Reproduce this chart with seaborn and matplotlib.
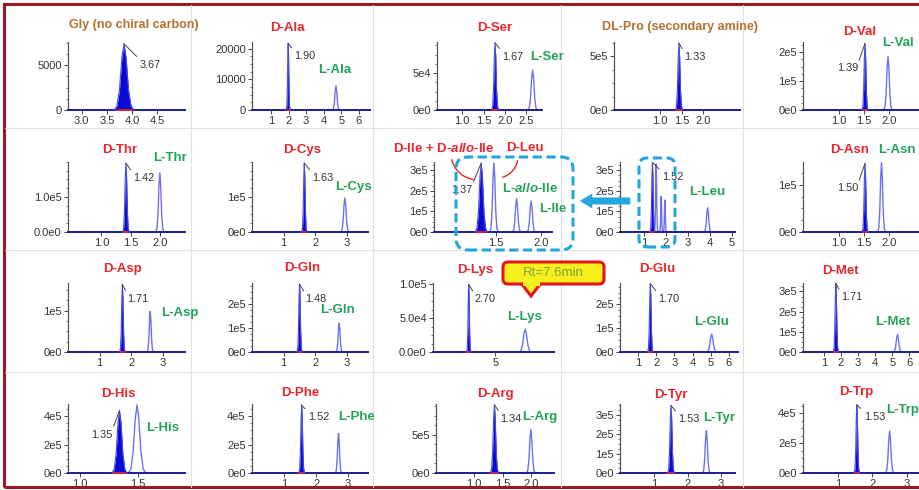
import numpy as np
import matplotlib
matplotlib.use("Agg")
import matplotlib.pyplot as plt
import seaborn as sns
from matplotlib.patches import FancyBboxPatch, FancyArrowPatch, Polygon, Rectangle
from matplotlib.lines import Line2D
from matplotlib.ticker import AutoMinorLocator

# estilo
sns.set_style("ticks")
plt.rcParams['font.family'] = ['Liberation Sans', 'DejaVu Sans']
plt.rcParams['mathtext.fontset'] = 'custom'
plt.rcParams['mathtext.rm'] = 'Liberation Sans:bold'
plt.rcParams['mathtext.it'] = 'Liberation Sans:italic:bold'
plt.rcParams['mathtext.bf'] = 'Liberation Sans:bold'

TITLES = ["Gly (no chiral carbon)", "D-Ala", "D-Ser", "DL-Pro (secondary amine)", "D-Val",
          "D-Thr", "D-Cys", "D-Ile + D-$\\mathit{allo}$-Ile", "", "D-Asn",
          "D-Asp", "D-Gln", "D-Lys", "D-Glu", "D-Met",
          "D-His", "D-Phe", "D-Arg", "D-Tyr", "D-Trp"]
L_LABELS = ["", "L-Ala", "L-Ser", "", "L-Val",
            "L-Thr", "L-Cys", "L-$\\mathit{allo}$-Ile", "L-Leu", "L-Asn",
            "L-Asp", "L-Gln", "L-Lys", "L-Glu", "L-Met",
            "L-His", "L-Phe", "L-Arg", "L-Tyr", "L-Trp"]
RT_TEXT = ["3.67", "1.90", "1.67", "1.33", "1.39", "1.42", "1.63", "1.37", "1.52", "1.50",
           "1.71", "1.48", "2.70", "1.70", "1.71", "1.35", "1.52", "1.34", "1.53", "1.53"]

# pico D (relleno)
D_RT = [3.84, 1.98, 1.77, 1.44, 1.52, 1.42, 1.65, 1.34, 1.38, 1.52,
        1.72, 1.50, 2.70, 1.67, 1.70, 1.34, 1.55, 1.36, 1.50, 1.55]
D_HEIGHT = [7400, 21800, 9.1e4, 6.2e5, 2.3e5, 1.97e5, 1.97e5, 3.35e5, 3.38e5, 1.45e5,
            1.63e5, 2.83e5, 1.0e5, 2.87e5, 3.4e5, 4.4e5, 4.8e5, 8.9e5, 3.5e5, 4.55e5]
D_WIDTH = [0.2, 0.11, 0.08, 0.08, 0.06, 0.055, 0.08, 0.066, 0.11, 0.057,
           0.085, 0.08, 0.18, 0.145, 0.15, 0.065, 0.09, 0.07, 0.1, 0.077]

# picos L / otros (contorno)
L_RT = [[], [4.7], [2.65], [], [1.98], [2.0], [2.93], [1.48, 1.73, 1.89], [1.55, 1.78, 1.95, 3.9], [1.85],
        [2.6], [2.75], [7.6], [5.05], [5.3], [1.49], [2.7], [1.99], [2.56], [2.5]]
L_HEIGHT = [[], [7900], [5.4e4], [], [1.85e5], [1.69e5], [0.97e5], [3.35e5, 1.62e5, 1.5e5],
            [3.3e5, 1.72e5, 1.55e5, 1.18e5], [1.47e5],
            [0.98e5], [1.2e5], [3.4e4], [0.75e5], [0.87e5], [4.8e5], [2.8e5], [5.65e5], [2.2e5], [2.8e5]]
L_WIDTH = [[], [0.2], [0.11], [], [0.085], [0.07], [0.13], [0.046, 0.046, 0.046], [0.08, 0.07, 0.07, 0.16], [0.077],
           [0.1], [0.1], [0.52], [0.27], [0.24], [0.075], [0.1], [0.076], [0.115], [0.12]]

# forma normalizada de un pico
PROFILE_X = [-1.0, -0.7, -0.45, -0.2, 0.0, 0.2, 0.45, 0.7, 1.0]
PROFILE_Y = [0.0, 0.06, 0.3, 0.8, 1.0, 0.8, 0.3, 0.06, 0.0]

# ejes
XLIM = [(2.73, 5.05), (-0.08, 6.64), (0.41, 2.87), (-0.07, 2.86), (0.28, 2.82),
        (0.43, 2.43), (0.0, 3.66), (0.82, 2.12), (-0.1, 5.15), (0.28, 2.82),
        (0.0, 3.7), (0.0, 3.66), (-0.4, 10.1), (0.0, 6.5), (-0.22, 7.2),
        (0.9, 1.9), (0.0, 3.62), (0.35, 2.39), (-0.03, 3.42), (-0.01, 3.67)]
XTICKS = [[3.0, 3.5, 4.0, 4.5], [1, 2, 3, 4, 5, 6], [1.0, 1.5, 2.0, 2.5], [1.0, 1.5, 2.0], [1.0, 1.5, 2.0],
          [1.0, 1.5, 2.0], [1, 2, 3], [1.5, 2.0], [1, 2, 3, 4, 5], [1.0, 1.5, 2.0],
          [1, 2, 3], [1, 2, 3], [5], [1, 2, 3, 4, 5, 6], [1, 2, 3, 4, 5, 6],
          [1.0, 1.5], [1, 2, 3], [1.0, 1.5, 2.0], [1, 2, 3], [1, 2, 3]]
XTICK_LABELS = [["3.0", "3.5", "4.0", "4.5"], ["1", "2", "3", "4", "5", "6"], ["1.0", "1.5", "2.0", "2.5"],
                ["1.0", "1.5", "2.0"], ["1.0", "1.5", "2.0"],
                ["1.0", "1.5", "2.0"], ["1", "2", "3"], ["1.5", "2.0"], ["1", "2", "3", "4", "5"], ["1.0", "1.5", "2.0"],
                ["1", "2", "3"], ["1", "2", "3"], ["5"], ["1", "2", "3", "4", "5", "6"], ["1", "2", "3", "4", "5", "6"],
                ["1.0", "1.5"], ["1", "2", "3"], ["1.0", "1.5", "2.0"], ["1", "2", "3"], ["1", "2", "3"]]
YLIM_TOP = [7600, 22200, 9.2e4, 6.3e5, 2.35e5, 2.0e5, 2.0e5, 3.4e5, 3.4e5, 1.48e5,
            1.67e5, 2.88e5, 1.02e5, 2.9e5, 3.42e5, 4.87e5, 4.87e5, 9.0e5, 3.57e5, 4.6e5]
YTICKS = [[0, 5000], [0, 10000, 20000], [0, 5e4], [0, 5e5], [0, 1e5, 2e5],
          [0, 1e5], [0, 1e5], [0, 1e5, 2e5, 3e5], [0, 1e5, 2e5, 3e5], [0, 1e5],
          [0, 1e5], [0, 1e5, 2e5], [0, 5e4, 1e5], [0, 1e5, 2e5], [0, 1e5, 2e5, 3e5],
          [0, 2e5, 4e5], [0, 2e5, 4e5], [0, 5e5], [0, 1e5, 2e5, 3e5], [0, 2e5, 4e5]]
YTICK_LABELS = [["0", "5000"], ["0", "10000", "20000"], ["0e0", "5e4"], ["0e0", "5e5"], ["0e0", "1e5", "2e5"],
                ["0.0e0", "1.0e5"], ["0e0", "1e5"], ["0e0", "1e5", "2e5", "3e5"], ["0e0", "1e5", "2e5", "3e5"], ["0e0", "1e5"],
                ["0e0", "1e5"], ["0e0", "1e5", "2e5"], ["0.0e0", "5.0e4", "1.0e5"], ["0e0", "1e5", "2e5"],
                ["0e0", "1e5", "2e5", "3e5"],
                ["0e0", "2e5", "4e5"], ["0e0", "2e5", "4e5"], ["0e0", "5e5"], ["0e0", "1e5", "2e5", "3e5"],
                ["0e0", "2e5", "4e5"]]

# ---- layout (pixeles) ----
W, H = 920, 490
AX_LEFT = [68, 252, 437, 614, 803, 68, 252, 434, 620, 803, 68, 252, 433, 620, 803, 68, 252, 436, 620, 803]
AX_RIGHT = [185, 370, 542, 740, 930, 185, 368, 552, 735, 930, 185, 368, 554, 738, 930, 185, 368, 554, 735, 930]
ROW_TOP = [42, 162, 283, 404]
ROW_BASE = [110, 232, 352, 473]
TITLE_POS = [(134, 25), (287, 28), (495, 28), (680, 27), (860, 32),
             (120, 150), (302, 150), (444, 148), None, (850, 150),
             (123, 269), (302, 268), (475, 270), (657, 269), (840, 271),
             (118, 394), (300, 393), (495, 394), (671, 395), (856, 392)]
L_POS = [None, (335, 70), (547, 57), None, (898, 43),
         (170, 158), (353, 187), (530, 189), (707, 192), (897, 150),
         (180, 313), (338, 310), (525, 317), (712, 322), (893, 322),
         (163, 428), (357, 417), (540, 417), (719, 418), (903, 410)]
RT_OFFSET = [(16, 21, 'left'), (6, 13, 'left'), (7, 14, 'left'), (5, 14, 'left'), (-7, 25, 'right'),
             (7, 15, 'left'), (8, 15, 'left'), (-9, 27, 'right'), (10, 15, 'left'), (-7, 25, 'right'),
             (5, 14, 'left'), (6, 15, 'left'), (6, 15, 'left'), (8, 15, 'left'), (5, 14, 'left'),
             (-7, 24, 'right'), (6, 12, 'left'), (6, 14, 'left'), (7, 14, 'left'), (7, 12, 'left')]

RED = '#e8262d'
GREEN = '#23a35a'
BROWN = '#b5702e'
DARK = '#0a0ad8'
LIGHT = '#7070ee'
NAVY = '#1c1c96'
TEXT = '#333333'
CYAN = '#22a6de'

fig = plt.figure(figsize=(W / 100, H / 100), dpi=100)
fig.patch.set_facecolor('white')
inch = fig.dpi_scale_trans


def at(x, y):
    return (x / 100, (H - y) / 100)


def peak(rt, h, w):
    return rt + w * np.array(PROFILE_X), h * np.array(PROFILE_Y)


# lineas de la cuadricula y marco
for gx in [191, 373, 561, 743]:
    fig.add_artist(Line2D([gx / 100] * 2, [at(0, 5)[1], at(0, 487)[1]], transform=inch, color='#e2e2e2', lw=0.8))
for gy in [128, 250, 372]:
    fig.add_artist(Line2D([0.05, 9.2], [at(0, gy)[1]] * 2, transform=inch, color='#e2e2e2', lw=0.8))
fig.add_artist(Rectangle(at(4, 487), 10, 4.83, transform=inch, fill=False, ec='#9e1a1e', lw=2.2))

for i in range(20):
    r, c = divmod(i, 5)
    l, rr = AX_LEFT[i], AX_RIGHT[i]
    top, base = ROW_TOP[r], ROW_BASE[r]
    ax = fig.add_axes([l / W, 1 - base / H, (rr - l) / W, (base - top) / H])
    ax.patch.set_alpha(0)

    for rt, h, w in zip(L_RT[i], L_HEIGHT[i], L_WIDTH[i]):
        px, py = peak(rt, h, w)
        sns.lineplot(x=px, y=py, ax=ax, color=LIGHT, lw=1.0, sort=False, estimator=None, clip_on=False)

    px, py = peak(D_RT[i], D_HEIGHT[i], D_WIDTH[i])
    ax.fill_between(px, 0, py, color=DARK, lw=0, zorder=3)
    sns.lineplot(x=px, y=py, ax=ax, color='#4a4ae6', lw=0.8, sort=False, estimator=None, zorder=4, clip_on=False)
    ax.plot([D_RT[i] - D_WIDTH[i] * 0.8, D_RT[i] + D_WIDTH[i] * 0.8], [0, 0], color=RED, lw=1.2,
            zorder=5, clip_on=False)

    ax.set_xlim(XLIM[i])
    ax.set_ylim(0, YLIM_TOP[i])
    ax.set_xticks(XTICKS[i], XTICK_LABELS[i])
    ax.set_yticks(YTICKS[i], YTICK_LABELS[i])
    ax.yaxis.set_minor_locator(AutoMinorLocator(4))
    ax.tick_params(which='major', length=3, width=0.7, labelsize=8, pad=1.5, colors='#444444', labelcolor=TEXT)
    ax.tick_params(which='minor', length=1.6, width=0.5, colors='#444444')
    ax.set_xlabel('')
    ax.set_ylabel('')
    for s in ['top', 'right']:
        ax.spines[s].set_visible(False)
    ax.spines['left'].set(color='#555555', lw=0.9)
    ax.spines['bottom'].set(color=NAVY, lw=1.4)

    dx, dy, ha = RT_OFFSET[i]
    ax.annotate(RT_TEXT[i], xy=(D_RT[i], D_HEIGHT[i]), xytext=(dx, -dy), textcoords='offset pixels',
                ha=ha, va='center', fontsize=7.8, color=TEXT, annotation_clip=False, zorder=6,
                arrowprops=dict(arrowstyle='-', color='#444444', lw=0.7, shrinkA=0, shrinkB=0,
                                relpos=(0, 1) if ha == 'left' else (1, 1)))

    if TITLE_POS[i] is not None:
        brown = i in (0, 3)
        x, y = TITLE_POS[i]
        fig.text(x / W, 1 - y / H, TITLES[i], ha='center', va='center', color=BROWN if brown else RED,
                 fontsize=9 if brown else 9.5, fontweight='bold')
    if L_POS[i] is not None:
        x, y = L_POS[i]
        fig.text(x / W, 1 - y / H, L_LABELS[i], ha='center', va='center', color=GREEN,
                 fontsize=9.5, fontweight='bold')

# etiquetas extra del panel Ile/Leu
fig.text(525 / W, 1 - 148 / H, "D-Leu", ha='center', va='center', color=RED, fontsize=9.5, fontweight='bold')
fig.text(553 / W, 1 - 209 / H, "L-Ile", ha='center', va='center', color=GREEN, fontsize=9.5, fontweight='bold')
fig.add_artist(FancyArrowPatch(at(451, 157), at(476, 180), transform=inch, arrowstyle='-',
                               connectionstyle='arc3,rad=0.35', color=RED, lw=1.0, zorder=6))
fig.add_artist(FancyArrowPatch(at(518, 158), at(500, 178), transform=inch, arrowstyle='-',
                               connectionstyle='arc3,rad=-0.35', color=RED, lw=1.0, zorder=6))

# cajas punteadas y flecha
fig.add_artist(FancyBboxPatch(at(456, 250), 1.17, 0.93, transform=inch,
                              boxstyle='round,pad=0,rounding_size=0.12', fill=False, ec=CYAN,
                              lw=2.2, ls=(0, (3, 1.5)), zorder=7))
fig.add_artist(FancyBboxPatch(at(639, 247), 0.36, 0.89, transform=inch,
                              boxstyle='round,pad=0,rounding_size=0.08', fill=False, ec=CYAN,
                              lw=2.2, ls=(0, (3, 1.5)), zorder=7))
fig.add_artist(FancyArrowPatch(at(633, 201), at(577, 201), transform=inch,
                               arrowstyle='simple,head_width=0.9,head_length=0.75,tail_width=0.42',
                               mutation_scale=12, color=CYAN, lw=0, zorder=7))

# globo Rt=7.6min
fig.add_artist(FancyBboxPatch(at(503, 284), 1.01, 0.22, transform=inch,
                              boxstyle='round,pad=0,rounding_size=0.05', fc='#f8f01e', ec='#e3141b',
                              lw=2.2, zorder=8))
fig.add_artist(Polygon([at(521, 283), at(531, 296), at(541, 283)], closed=False, transform=inch,
                       fc='#f8f01e', ec='#e3141b', lw=2.2, zorder=8))
fig.add_artist(Rectangle(at(522.5, 286), 0.17, 0.045, transform=inch, fc='#f8f01e', ec='none', zorder=9))
fig.text(553 / W, 1 - 273 / H, "Rt=7.6min", ha='center', va='center', color='#7fa33a',
         fontsize=9.5, zorder=10)

fig.savefig('out.png', dpi=100)
